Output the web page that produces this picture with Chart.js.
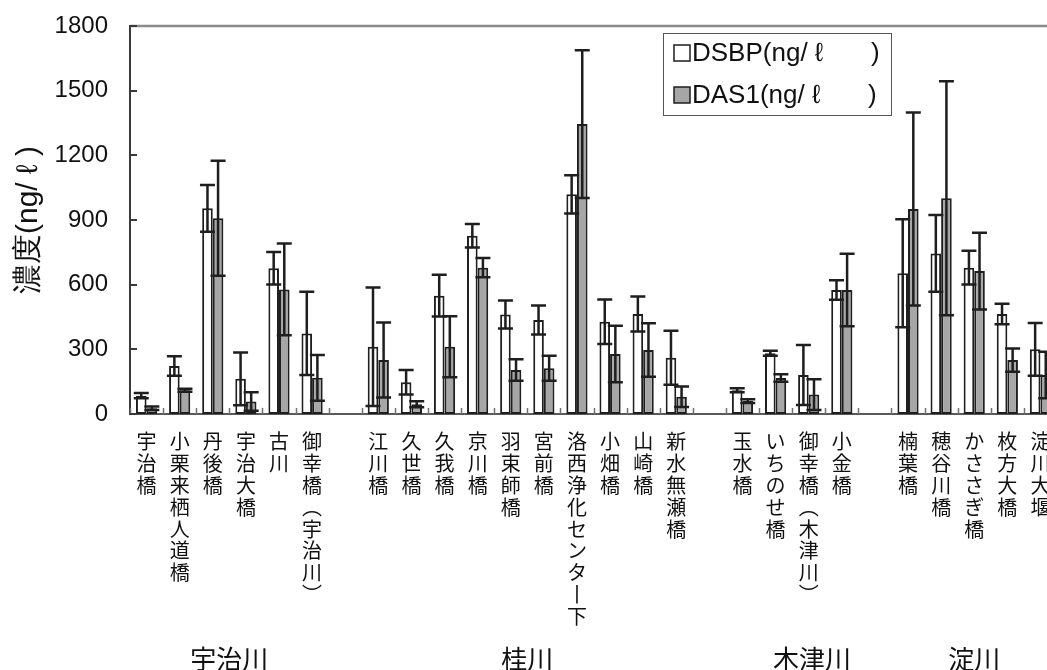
<!DOCTYPE html>
<html>
<head>
<meta charset="utf-8">
<script src="https://cdn.jsdelivr.net/npm/chart.js@4.4.1/dist/chart.umd.min.js"></script>
<style>
  html, body { margin: 0; padding: 0; background: #fff; overflow: hidden; }
  #wrap { position: absolute; left: 0; top: 0; width: 1062px; height: 670px; }
</style>
</head>
<body>
<div id="wrap"><canvas id="chart"></canvas></div>
<script>
// sampling sites (blank entries are the gaps between rivers)
const sites = [
  "宇治橋", "小栗来栖人道橋", "丹後橋", "宇治大橋", "古川", "御幸橋（宇治川）", "",
  "江川橋", "久世橋", "久我橋", "京川橋", "羽束師橋", "宮前橋", "洛西浄化センター下", "小畑橋", "山崎橋", "新水無瀬橋", "",
  "玉水橋", "いちのせ橋", "御幸橋（木津川）", "小金橋", "",
  "楠葉橋", "穂谷川橋", "かささぎ橋", "枚方大橋", "淀川大堰"
];

const dsbp    = [85, 223, 954, 163, 676, 374, null, 312, 147, 549, 827, 462, 436, 1019, 428, 464, 261, null, 110, 282, 181, 575, null, 653, 745, 679, 464, 300];
const dsbpErr = [12, 45, 108, 122, 75, 193, null, 275, 57, 97, 54, 65, 67, 89, 103, 81, 125, null, 9, 12, 139, 45, null, 250, 178, 78, 48, 122];
const das1    = [27, 110, 908, 58, 578, 168, null, 250, 45, 312, 679, 204, 212, 1345, 278, 297, 80, null, 60, 167, 90, 575, null, 951, 1001, 663, 250, 181];
const das1Err = [8, 7, 267, 43, 213, 106, null, 174, 14, 141, 45, 50, 58, 343, 131, 124, 47, null, 9, 17, 71, 168, null, 448, 543, 178, 54, 108];

const rivers   = ["宇治川", "桂川", "木津川", "淀川"];
const riverPos = [2.5, 11.5, 20.1, 25];   // category index under which each river name sits

const yTicks = [0, 300, 600, 900, 1200, 1500, 1800];

// vertical writing: one character per line, brackets and long vowel turned upright
function vertical(s) {
  if (!s) return "";
  return s.split("").map(c => c === "（" ? "︵" : c === "）" ? "︶" : c === "ー" ? "丨" : c);
}

const INK = "#1e1e1e";
const GRAY = "#a6a6a6";

const extras = {
  id: "extras",
  afterDatasetsDraw(chart) {
    const ctx = chart.ctx;
    const y = chart.scales.y;
    ctx.save();
    ctx.strokeStyle = INK;
    ctx.lineWidth = 2.5;
    chart.data.datasets.forEach((ds, di) => {
      const meta = chart.getDatasetMeta(di);
      meta.data.forEach((bar, i) => {
        const v = ds.data[i], e = ds.errors[i];
        if (v == null || e == null) return;
        const hi = y.getPixelForValue(v + e);
        const lo = y.getPixelForValue(Math.max(0, v - e));
        const cap = 7.5;
        ctx.beginPath();
        ctx.moveTo(bar.x, hi); ctx.lineTo(bar.x, lo);
        ctx.moveTo(bar.x - cap, hi); ctx.lineTo(bar.x + cap, hi);
        ctx.moveTo(bar.x - cap, lo); ctx.lineTo(bar.x + cap, lo);
        ctx.stroke();
      });
    });
    ctx.restore();
  },
  afterDraw(chart) {
    const ctx = chart.ctx;
    const a = chart.chartArea;
    const x = chart.scales.x, y = chart.scales.y;
    ctx.save();

    // top / right frame
    ctx.strokeStyle = "#8c8c8c";
    ctx.lineWidth = 2.5;
    ctx.beginPath();
    ctx.moveTo(a.left, a.top); ctx.lineTo(a.right, a.top); ctx.lineTo(a.right, a.bottom);
    ctx.stroke();

    // inward ticks on the category axis (at category boundaries)
    ctx.strokeStyle = "#707070";
    ctx.lineWidth = 1.5;
    ctx.beginPath();
    for (let i = 0; i <= sites.length; i++) {
      const px = Math.round(x.getPixelForValue(i - 0.5)) + 0.5;
      ctx.moveTo(px, a.bottom); ctx.lineTo(px, a.bottom - 6);
    }
    ctx.stroke();

    // inward ticks on the value axis
    ctx.strokeStyle = "#3a3a3a";
    ctx.lineWidth = 2;
    ctx.beginPath();
    yTicks.forEach(t => {
      const py = Math.round(y.getPixelForValue(t));
      ctx.moveTo(a.left, py); ctx.lineTo(a.left + 7, py);
    });
    ctx.stroke();

    // river names
    ctx.fillStyle = "#111";
    ctx.font = '26px "Noto Sans CJK JP"';
    ctx.textAlign = "center";
    ctx.textBaseline = "middle";
    rivers.forEach((r, i) => ctx.fillText(r, x.getPixelForValue(riverPos[i]), 659));

    // legend box
    const lx = a.left + 533, ly = a.top + 7, lw = 228, lh = 82;
    ctx.strokeStyle = "#555";
    ctx.lineWidth = 1;
    ctx.strokeRect(lx + 0.5, ly + 0.5, lw, lh);
    const rows = [
      { text: "DSBP(ng/ ℓ　   )", fill: "#ffffff", cy: ly + 20 },
      { text: "DAS1(ng/ ℓ　   )", fill: GRAY, cy: ly + 62 }
    ];
    ctx.font = '26px "Liberation Sans", "Noto Sans CJK JP"';
    ctx.textAlign = "left";
    rows.forEach(r => {
      ctx.fillStyle = r.fill;
      ctx.fillRect(lx + 11, r.cy - 8, 16, 16);
      ctx.strokeStyle = INK;
      ctx.lineWidth = 1.5;
      ctx.strokeRect(lx + 11, r.cy - 8, 16, 16);
      ctx.fillStyle = "#111";
      ctx.fillText(r.text, lx + 29, r.cy + 1);
    });
    ctx.restore();
  }
};

new Chart(document.getElementById("chart"), {
  type: "bar",
  data: {
    labels: sites.map(vertical),
    datasets: [
      {
        label: "DSBP(ng/ ℓ )",
        data: dsbp,
        errors: dsbpErr,
        backgroundColor: "#ffffff",
        borderColor: INK,
        borderWidth: 2,
        borderSkipped: false
      },
      {
        label: "DAS1(ng/ ℓ )",
        data: das1,
        errors: das1Err,
        backgroundColor: GRAY,
        borderColor: INK,
        borderWidth: 2,
        borderSkipped: false
      }
    ]
  },
  options: {
    responsive: true,
    maintainAspectRatio: false,
    animation: false,
    layout: { padding: { left: 0, top: 26, right: 5, bottom: 0 } },
    categoryPercentage: 0.64,
    barPercentage: 1.0,
    plugins: {
      legend: { display: false },
      tooltip: { enabled: false }
    },
    scales: {
      x: {
        // grid hidden; its tick length only sets the label gap
        grid: { display: false, drawTicks: true, tickLength: 17 },
        border: { display: true, color: "#5a5a5a", width: 2 },
        ticks: {
          autoSkip: false,
          maxRotation: 0,
          minRotation: 0,
          padding: 0,
          color: "#111",
          font: { family: "Noto Sans CJK JP", size: 20, lineHeight: 1.09 }
        },
        afterFit(scale) { scale.height = 256; }
      },
      y: {
        min: 0,
        max: 1800,
        afterBuildTicks(scale) { scale.ticks = yTicks.map(v => ({ value: v })); },
        grid: { display: false, drawTicks: true, tickLength: 20 },
        border: { display: true, color: "#3a3a3a", width: 2 },
        ticks: {
          padding: 2,
          color: "#111",
          font: { family: "Liberation Sans", size: 24 },
          callback: v => String(v)
        },
        title: {
          display: true,
          text: "濃度(ng/ ℓ )",
          color: "#111",
          font: { family: "Liberation Sans", size: 30 },
          padding: { top: 11, bottom: 0 }
        },
        afterFit(scale) { scale.width = 130; }
      }
    }
  },
  plugins: [extras]
});
</script>
</body>
</html>
